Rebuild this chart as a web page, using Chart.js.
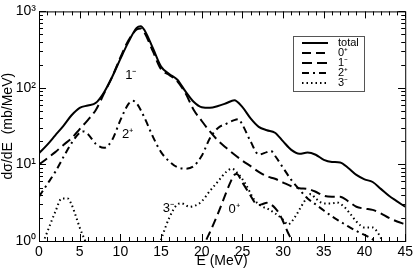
<!DOCTYPE html>
<html>
<head>
<meta charset="utf-8">
<script src="https://cdn.jsdelivr.net/npm/chart.js@4/dist/chart.umd.min.js"></script>
<style>
  html, body { margin: 0; padding: 0; background: #fff; }
  #wrap { width: 416px; height: 270px; }
</style>
</head>
<body>
<div id="wrap"><canvas id="graph"></canvas></div>
<script>
// energies (MeV) and cross sections (mb/MeV)
const totalE = [0, 1, 2, 3, 4, 5, 6, 7, 8, 9, 10, 11, 12, 12.5, 13, 14, 15, 16, 17, 18, 19, 20, 21, 22, 23, 24, 25, 26, 27, 28, 29, 30, 31, 32, 33, 34, 35, 36, 37, 38, 39, 40, 41, 42, 43, 44, 45];
const totalV = [14, 18, 24, 32, 44, 55, 59, 64, 88, 140, 240, 400, 610, 640, 560, 330, 190, 152, 128, 90, 66, 56, 55, 58, 63, 69, 56, 40, 31, 28, 26, 20, 15.5, 13.8, 14.3, 13.4, 11.5, 10.8, 10.6, 9, 7.3, 6.4, 5.9, 4.8, 3.9, 3.3, 2.8];

const oneMinusE = [0, 1, 2, 3, 4, 5, 6, 7, 8, 9, 10, 11, 12, 12.5, 13, 14, 15, 16, 17, 18, 19, 20, 21, 22, 23, 24, 25, 26, 27, 28, 29, 30, 31, 32, 33, 34, 35, 36, 37, 38, 39, 40, 41, 42, 43, 44, 45];
const oneMinusV = [10, 12, 14.5, 18, 22, 29, 38, 52, 85, 140, 250, 420, 580, 600, 520, 300, 175, 148, 122, 85, 52, 37, 27, 20.5, 16.5, 13.5, 11.2, 9.5, 8, 7, 6.5, 5.8, 5.2, 4.9, 4.8, 4.4, 3.9, 3.8, 3.8, 3.3, 2.8, 2.65, 2.55, 2.3, 2.0, 1.8, 1.65];

const zeroPlusE = [20, 20.5, 21, 22, 23, 23.5, 24, 24.3, 25, 26, 26.5, 27, 27.5, 28, 28.5, 29, 29.5, 30, 30.5, 31, 31.5];
const zeroPlusV = [0.7, 1, 1.3, 2.3, 4.3, 5.8, 7.3, 7.5, 5.8, 3.9, 3.2, 2.95, 3.05, 3.15, 3.0, 2.7, 2.3, 1.8, 1.35, 1.05, 0.8];

const twoPlusE = [0, 1, 2, 3, 4, 5, 5.5, 6, 7, 8, 9, 10, 11, 11.5, 12, 13, 14, 15, 16, 17, 18, 19, 20, 21, 22, 23, 24, 24.5, 25, 26, 27, 28, 28.5, 29, 30, 31, 32, 33, 34, 35, 36, 37, 38, 39, 40, 41, 42];
const twoPlusV = [3.8, 5.5, 8, 12.5, 19, 26, 27, 25, 18.5, 16.5, 21, 38, 62, 68, 63, 40, 23, 14.5, 11, 9.2, 8.8, 9.5, 13, 22, 30, 34, 38, 39, 33, 20, 13.5, 14.5, 15, 13, 9, 6.3, 4.7, 3.6, 3, 2.5, 2.1, 1.8, 1.55, 1.35, 1.2, 1.05, 0.9];

const threeMinusE = [0.5, 1, 2, 2.8, 3.5, 4, 4.6, 5, 5.6, 5.9, 10, 14.8, 15.2, 16, 17, 17.5, 18.5, 19.5, 20, 21, 22, 23, 23.7, 24.5, 25.4, 26.5, 27.5, 28.2, 29, 30, 30.6, 31.5, 32.2, 33, 33.4, 34, 35, 36, 36.6, 37.5, 38.2, 39, 40, 41, 41.5, 42, 42.4];
const threeMinusV = [0.95, 1.3, 2.4, 3.6, 3.6, 3.0, 2.0, 1.5, 1.05, 0.9, null, 0.9, 1.2, 2.0, 3.0, 3.1, 2.8, 3.0, 3.3, 4.5, 6, 8, 8.8, 7.5, 5.5, 3.4, 2.8, 2.6, 2.3, 1.9, 1.65, 2.1, 2.8, 3.8, 4.1, 3.6, 3.1, 3.1, 3.2, 2.8, 2.3, 1.8, 1.5, 1.5, 1.35, 1.1, 0.9];

const seriesLabels = ['total', '0\u207A', '1\u207B', '2\u207A', '3\u207B'];
const xTicks = [0, 5, 10, 15, 20, 25, 30, 35, 40, 45];
const yDecades = [1, 10, 100, 1000];
const supers = ['\u2070', '\u00B9', '\u00B2', '\u00B3'];

function pts(xs, ys) {
    return xs.map((x, i) => ({ x: x, y: ys[i] }));
}

function line(label, xs, ys, dash) {
    return {
        label: label,
        data: pts(xs, ys),
        borderColor: '#000',
        borderWidth: 2,
        borderDash: dash,
        pointRadius: 0,
        fill: false,
        spanGaps: false,
        cubicInterpolationMode: 'monotone',
        clip: 0
    };
}

// frame, inward ticks, legend box and curve labels
const decor = {
    id: 'decor',
    afterDatasetsDraw(chart) {
        const c = chart.ctx;
        const a = chart.chartArea;
        const xs = chart.scales.x, ys = chart.scales.y;
        c.save();
        c.strokeStyle = '#000';
        c.lineWidth = 1;
        c.setLineDash([]);
        c.strokeRect(a.left + 0.5, a.top + 0.5, a.right - a.left, a.bottom - a.top);
        c.beginPath();
        for (let e = 0; e <= 45; e++) {
            const px = Math.round(xs.getPixelForValue(e)) + 0.5;
            const len = e % 5 === 0 ? 7 : 4;
            c.moveTo(px, a.bottom); c.lineTo(px, a.bottom - len);
            c.moveTo(px, a.top); c.lineTo(px, a.top + len);
        }
        for (let d = 1; d <= 100; d *= 10) {
            for (let m = 1; m <= 10; m++) {
                const v = d * m;
                const py = Math.round(ys.getPixelForValue(v)) + 0.5;
                const len = m === 1 || m === 10 ? 7 : 4;
                c.moveTo(a.left, py); c.lineTo(a.left + len, py);
                c.moveTo(a.right, py); c.lineTo(a.right - len, py);
            }
        }
        c.stroke();

        // labels next to the curves
        c.fillStyle = '#000';
        c.font = '13px "Liberation Sans", Arial, sans-serif';
        c.textAlign = 'left';
        c.textBaseline = 'middle';
        const notes = [['1\u207B', 10.6, 145], ['2\u207A', 10.2, 25], ['3\u207B', 15.2, 2.7], ['0\u207A', 23.3, 2.6]];
        notes.forEach(n => c.fillText(n[0], xs.getPixelForValue(n[1]), ys.getPixelForValue(n[2])));

        // legend
        const bx = 293, by = 36, bw = 71, bh = 55;
        c.fillStyle = '#fff';
        c.fillRect(bx, by, bw, bh);
        c.strokeStyle = '#555';
        c.lineWidth = 1;
        c.strokeRect(bx + 0.5, by + 0.5, bw, bh);
        c.font = '11px "Liberation Sans", Arial, sans-serif';
        chart.data.datasets.forEach((ds, i) => {
            const yy = by + 7 + i * 10;
            c.strokeStyle = '#000';
            c.lineWidth = 2;
            c.setLineDash(ds.borderDash || []);
            c.beginPath();
            c.moveTo(bx + 9, yy);
            c.lineTo(bx + 35, yy);
            c.stroke();
            c.fillStyle = '#000';
            c.fillText(ds.label, bx + 45, yy);
        });
        c.restore();
    }
};

const ctx = document.getElementById('graph').getContext('2d');
new Chart(ctx, {
    type: 'line',
    data: {
        datasets: [
            line(seriesLabels[0], totalE, totalV, []),
            line(seriesLabels[1], zeroPlusE, zeroPlusV, [9, 5]),
            line(seriesLabels[2], oneMinusE, oneMinusV, [10, 5]),
            line(seriesLabels[3], twoPlusE, twoPlusV, [7, 4, 2, 4]),
            line(seriesLabels[4], threeMinusE, threeMinusV, [1.5, 3])
        ]
    },
    options: {
        responsive: true,
        maintainAspectRatio: false,
        animation: false,
        layout: { padding: { top: 6, right: 8, left: 0, bottom: 0 } },
        plugins: { legend: { display: false }, tooltip: { enabled: false } },
        scales: {
            x: {
                type: 'linear',
                min: 0,
                max: 45,
                grid: { display: false, drawTicks: false },
                border: { display: false },
                afterBuildTicks: s => { s.ticks = xTicks.map(v => ({ value: v })); },
                ticks: { color: '#000', padding: 3, maxRotation: 0, autoSkip: false, font: { family: '"Liberation Sans", Arial, sans-serif', size: 14 } },
                title: { display: true, text: 'E (MeV)', color: '#000', padding: { top: 0, bottom: 0 }, font: { family: '"Liberation Sans", Arial, sans-serif', size: 14 } },
                afterFit: s => { s.height = 29; }
            },
            y: {
                type: 'logarithmic',
                min: 1,
                max: 1000,
                grid: { display: false, drawTicks: false },
                border: { display: false },
                afterBuildTicks: s => { s.ticks = yDecades.map(v => ({ value: v })); },
                ticks: {
                    color: '#000', padding: 3, autoSkip: false,
                    font: { family: '"Liberation Sans", Arial, sans-serif', size: 14 },
                    callback: v => '10' + supers[Math.round(Math.log10(v))]
                },
                title: { display: true, text: 'd\u03C3/dE  (mb/MeV)', color: '#000', padding: { top: 0, bottom: 0 }, font: { family: '"Liberation Sans", Arial, sans-serif', size: 14 } },
                afterFit: s => { s.width = 39; }
            }
        }
    },
    plugins: [decor]
});
</script>
</body>
</html>
